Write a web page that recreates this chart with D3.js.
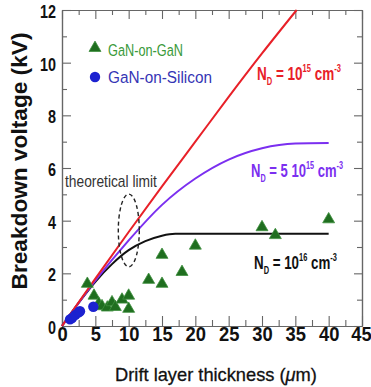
<!DOCTYPE html>
<html><head><meta charset="utf-8">
<script src="https://cdn.jsdelivr.net/npm/d3@7"></script>
<style>body{margin:0;background:#fff}svg{display:block}</style>
</head><body>
<svg id="chart" width="371" height="387"></svg>
<script>
// ---------- data ----------
const xTicks = [0, 5, 10, 15, 20, 25, 30, 35, 40, 45];
const yTicks = [0, 2, 4, 6, 8, 10, 12];
const xMinor = [2.5, 7.5, 12.5, 17.5, 22.5, 27.5, 32.5, 37.5, 42.5];
const yMinor = [1, 3, 5, 7, 9, 11];

// theoretical limit curves (thickness um, breakdown kV)
const curveND1e15 = [[0,0],[5,1.8],[10,3.57],[15,5.3],[20,7.0],[25,8.7],[30,10.35],[35.2,12]];
const curveND5e15 = [[0,0],[5,1.72],[10,3.25],[15,4.6],[20,5.6],[25,6.32],[30,6.75],[35,6.93],[40,6.95]];
const curveND1e16 = [[0,0],[2.5,0.88],[5,1.68],[7.5,2.35],[10,2.88],[12.5,3.22],[15,3.43],[17,3.5],[40,3.5]];

// measured devices
const ganOnGaN = [[3.8,1.6],[4.8,1.15],[5.5,0.85],[6,0.75],[6.8,0.7],[7.5,0.9],[8,0.72],[9,1.0],[10,1.15],[10,0.65],
                  [13,1.75],[15,1.6],[15,2.7],[18,2.05],[20,3.05],[30,3.75],[32,3.45],[40,4.05]];
const ganOnSi = [[1.2,0.25],[1.5,0.3],[2,0.42],[2.5,0.52],[2.7,0.56],[4.7,0.73]];

const seriesNames = ["GaN-on-GaN", "GaN-on-Silicon"];
const limitLabel = "theoretical limit";
const ellipseCenter = [10.02, 3.63];
const ellipseRadii = [1.575, 1.38];

(function () {
// ---------- layout ----------
const svg = d3.select("#chart");
const L = 62, R = 362, T = 10, B = 326;
const x = d3.scaleLinear().domain([0, 45]).range([L, R]);
const y = d3.scaleLinear().domain([0, 12]).range([B, T]);
const FONT = "'Liberation Sans', Arial, Helvetica, sans-serif";
const frameCol = "#666";

function fit(textSel, width) {
  const w = textSel.node().getComputedTextLength();
  textSel.attr("transform", `scale(${width / w},1)`);
}

// ---------- axes (ticks inward, all 4 sides) ----------
function styleAxis(g) {
  g.select(".domain").attr("stroke", frameCol).attr("stroke-width", 1.2);
  g.selectAll(".tick line").attr("stroke", frameCol).attr("stroke-width", 1.1);
}
const axB = svg.append("g").attr("transform", `translate(0,${B})`)
  .call(d3.axisBottom(x).tickValues(xTicks).tickSize(-10).tickSizeOuter(0).tickPadding(1).tickFormat(d3.format("d")));
styleAxis(axB);
axB.selectAll("text").attr("font-family", FONT).attr("font-size", 20).attr("font-weight", "bold").attr("fill", "#111")
  .attr("transform", "scale(0.92,1)");
axB.selectAll(".tick").filter(d => d === 45).select("text").attr("text-anchor", "end").attr("x", 10);

svg.append("g").attr("transform", `translate(0,${B})`)
  .call(d3.axisBottom(x).tickValues(xMinor).tickSize(-6).tickSizeOuter(0).tickFormat("")).call(styleAxis);

svg.append("g").attr("transform", `translate(0,${T})`)
  .call(d3.axisTop(x).tickValues(xTicks).tickSize(-9).tickSizeOuter(0).tickFormat("")).call(styleAxis);
svg.append("g").attr("transform", `translate(0,${T})`)
  .call(d3.axisTop(x).tickValues(xMinor).tickSize(-5).tickSizeOuter(0).tickFormat("")).call(styleAxis);

const axL = svg.append("g").attr("transform", `translate(${L},0)`)
  .call(d3.axisLeft(y).tickValues(yTicks).tickSize(-9).tickSizeOuter(0).tickPadding(6).tickFormat(d3.format("d")));
styleAxis(axL);
axL.selectAll("text").attr("font-family", FONT).attr("font-size", 18).attr("font-weight", "bold").attr("fill", "#111")
  .attr("x", -6 / 0.8).attr("dy", "0.42em").attr("transform", "scale(0.8,1)");
svg.append("g").attr("transform", `translate(${L},0)`)
  .call(d3.axisLeft(y).tickValues(yMinor).tickSize(-5).tickSizeOuter(0).tickFormat("")).call(styleAxis);

svg.append("g").attr("transform", `translate(${R},0)`)
  .call(d3.axisRight(y).tickValues(yTicks).tickSize(-8).tickSizeOuter(0).tickFormat("")).call(styleAxis);
svg.append("g").attr("transform", `translate(${R},0)`)
  .call(d3.axisRight(y).tickValues(yMinor).tickSize(-5).tickSizeOuter(0).tickFormat("")).call(styleAxis);

// ---------- axis titles ----------
const yt = svg.append("g").attr("transform", `translate(27,161) rotate(-90)`);
const ytText = yt.append("text").attr("text-anchor", "middle").attr("font-family", FONT)
  .attr("font-size", 22).attr("font-weight", "bold").attr("fill", "#111").text("Breakdown voltage (kV)");
fit(ytText, 257);

const xt = svg.append("g").attr("transform", `translate(216,381)`);
const xtText = xt.append("text").attr("text-anchor", "middle").attr("font-family", FONT)
  .attr("font-size", 19).attr("fill", "#111").attr("stroke", "#111").attr("stroke-width", 0.3);
xtText.append("tspan").text("Drift layer thickness (");
xtText.append("tspan").attr("font-style", "italic").text("\u03bc");
xtText.append("tspan").text("m)");
fit(xtText, 202);

// ---------- curves ----------
const line = d3.line().x(d => x(d[0])).y(d => y(d[1])).curve(d3.curveMonotoneX);
const plot = svg.append("g");
plot.append("path").datum(curveND1e16).attr("d", line).attr("fill", "none").attr("stroke", "#111").attr("stroke-width", 2);
plot.append("path").datum(curveND5e15).attr("d", line).attr("fill", "none").attr("stroke", "#7b2ff0").attr("stroke-width", 2);
plot.append("path").datum(curveND1e15).attr("d", line).attr("fill", "none").attr("stroke", "#e82028").attr("stroke-width", 2);

// ---------- markers ----------
const tri = d3.symbol().type(d3.symbolTriangle).size(62);
const greenFill = "#1f6e1f", greenStroke = "#3f8f3f";
const blueFill = "#1c22d0";
plot.selectAll(".g").data(ganOnGaN).join("path")
  .attr("d", tri).attr("transform", d => `translate(${x(d[0])},${y(d[1])})`)
  .attr("fill", greenFill).attr("stroke", greenStroke).attr("stroke-width", 0.8);
plot.selectAll(".b").data(ganOnSi).join("circle")
  .attr("cx", d => x(d[0])).attr("cy", d => y(d[1])).attr("r", 5.2)
  .attr("fill", blueFill);

// ---------- theoretical-limit ellipse ----------
svg.append("ellipse")
  .attr("cx", x(ellipseCenter[0])).attr("cy", y(ellipseCenter[1]))
  .attr("rx", x(ellipseRadii[0]) - x(0)).attr("ry", y(0) - y(ellipseRadii[1]))
  .attr("fill", "none").attr("stroke", "#222").attr("stroke-width", 1.4).attr("stroke-dasharray", "4,3");
const tl = svg.append("g").attr("transform", "translate(65,187)");
fit(tl.append("text").attr("font-family", FONT).attr("font-size", 16).attr("fill", "#333").text(limitLabel), 92);

// ---------- legend ----------
const lg = svg.append("g");
lg.append("path").attr("d", tri).attr("transform", "translate(95,48)")
  .attr("fill", greenFill).attr("stroke", greenStroke).attr("stroke-width", 0.8);
lg.append("circle").attr("cx", 95).attr("cy", 77).attr("r", 5.2).attr("fill", blueFill);
const l1 = lg.append("g").attr("transform", "translate(108,56)");
fit(l1.append("text").attr("font-family", FONT).attr("font-size", 17).attr("fill", "#3a9a3a").text(seriesNames[0]), 75);
const l2 = lg.append("g").attr("transform", "translate(108,83)");
fit(l2.append("text").attr("font-family", FONT).attr("font-size", 17).attr("fill", "#3535b5").text(seriesNames[1]), 104);

// ---------- N_D labels ----------
function ndLabel(px, py, width, color, mant, exp) {
  const g = svg.append("g").attr("transform", `translate(${px},${py})`);
  const t = g.append("text").attr("font-family", FONT).attr("font-size", 18).attr("font-weight", "bold").attr("fill", color);
  t.append("tspan").text("N");
  t.append("tspan").attr("font-size", 10).attr("dy", 5).text("D");
  t.append("tspan").attr("dy", -5).text(" = " + mant + "10");
  t.append("tspan").attr("font-size", 10).attr("dy", -8).text(exp);
  t.append("tspan").attr("dy", 8).text(" cm");
  t.append("tspan").attr("font-size", 10).attr("dy", -8).text("-3");
  fit(t, width);
}
ndLabel(257, 80, 84, "#e82028", "", "15");
ndLabel(251, 177, 92, "#7b2ff0", "5 ", "15");
ndLabel(254, 269, 83, "#111", "", "16");
})();
</script>
</body></html>
